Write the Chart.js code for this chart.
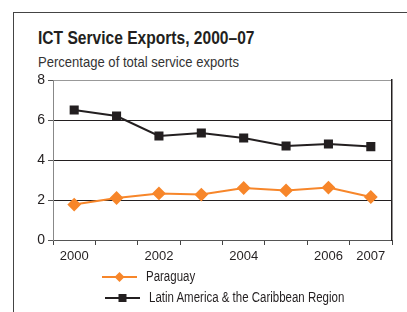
<!DOCTYPE html>
<html><head><meta charset="utf-8">
<script src="https://cdn.jsdelivr.net/npm/chart.js@4"></script>
<style>
html,body{margin:0;padding:0;background:#fff;}
#wrap{position:relative;width:407px;height:312px;overflow:hidden;font-family:"Liberation Sans",Arial,sans-serif;color:#231f20;}
#frameTop{position:absolute;left:13px;top:12px;width:400px;height:1px;background:#444;}
#frameLeft{position:absolute;left:13px;top:12px;width:1px;height:320px;background:#444;}
.t{position:absolute;white-space:nowrap;transform-origin:0 0;transform:scaleX(0.82);}
#title{left:38px;top:27px;font-weight:bold;font-size:19px;}
#sub{left:38px;top:53px;font-size:15px;color:#333;transform:scaleX(0.87);}
canvas{position:absolute;left:0;top:0;}
.leg{font-size:14px;color:#231f20;}
</style></head>
<body><div id="wrap">
<div id="frameTop"></div><div id="frameLeft"></div>
<div id="title" class="t">ICT Service Exports, 2000–07</div>
<div id="sub" class="t">Percentage of total service exports</div>
<canvas id="c" width="407" height="312"></canvas>
<svg style="position:absolute;left:0;top:0" width="407" height="312">
<line x1="102" y1="277" x2="137" y2="277" stroke="#f7862a" stroke-width="2"/>
<polygon points="119.5,272 124.5,277 119.5,282 114.5,277" fill="#f7862a"/>
<line x1="105" y1="298" x2="140" y2="298" stroke="#231f20" stroke-width="2"/>
<rect x="118.5" y="294" width="8" height="8" fill="#231f20"/>
</svg>
<div class="t leg" style="left:146px;top:268px;">Paraguay</div>
<div class="t leg" style="left:149px;top:289px;">Latin America &amp; the Caribbean Region</div>
</div>
<script>
const years = ['2000','2001','2002','2003','2004','2005','2006','2007'];
const shownYears = ['2000','2002','2004','2006','2007'];
const paraguay = [1.77, 2.1, 2.33, 2.27, 2.6, 2.48, 2.62, 2.15];
const lac = [6.5, 6.2, 5.2, 5.35, 5.1, 4.7, 4.8, 4.67];
const yTicks = [0, 2, 4, 6, 8];

const font = {family: '"Liberation Sans",Arial,sans-serif', size: 13};
new Chart(document.getElementById('c'), {
  type: 'line',
  data: {
    labels: years,
    datasets: [
      {label: 'Paraguay', data: paraguay, borderColor: '#f7862a', backgroundColor: '#f7862a',
       borderWidth: 2, pointStyle: 'rectRot', pointRadius: 5.5, pointHoverRadius: 5.5, tension: 0},
      {label: 'Latin America & the Caribbean Region', data: lac, borderColor: '#231f20', backgroundColor: '#231f20',
       borderWidth: 2, pointStyle: 'rect', pointRadius: 5, pointHoverRadius: 5, tension: 0}
    ]
  },
  options: {
    responsive: false, animation: false,
    layout: {padding: {top: 80, right: 15, bottom: 42, left: 0}},
    plugins: {legend: {display: false}, tooltip: {enabled: false}},
    scales: {
      x: {
        offset: true,
        grid: {offset: true, drawOnChartArea: false, tickLength: 5, color: '#444', tickColor: '#444'},
        border: {color: '#555', width: 1},
        ticks: {font: font, color: '#231f20', padding: 4, maxRotation: 0, autoSkip: false,
          callback: function(v, i) { const l = years[i]; return shownYears.includes(l) ? l : ''; }},
        afterFit: s => { s.height = 30; }
      },
      y: {
        min: 0, max: 8,
        afterBuildTicks: s => { s.ticks = yTicks.map(v => ({value: v})); },
        grid: {tickLength: 5, color: ctx => ctx.tick && ctx.tick.value === 8 ? '#999' : '#231f20', tickColor: '#555'},
        border: {color: '#888', width: 1},
        ticks: {font: {family: font.family, size: 14}, color: '#231f20', padding: 3},
        afterFit: s => { s.width = 53; }
      },
      y2: {
        position: 'right', min: 0, max: 8,
        grid: {drawOnChartArea: false, drawTicks: false},
        border: {color: '#231f20', width: 1.5},
        ticks: {display: false},
        afterFit: s => { s.width = 0; }
      }
    }
  }
});
</script>
</body></html>
